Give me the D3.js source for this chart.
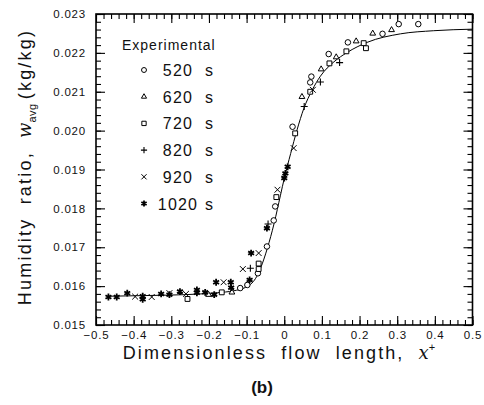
<!DOCTYPE html>
<html>
<head>
<meta charset="utf-8">
<script src="https://d3js.org/d3.v7.min.js"></script>
<style>
  body { margin: 0; background: #fff; }
  text { font-family: "Liberation Sans", Arial, sans-serif; fill: #111; }
</style>
</head>
<body>
<script>
// ---- data ----
const seriesNames = ["520 s", "620 s", "720 s", "820 s", "920 s", "1020 s"];

const s520 = [[-0.117,0.01595],[-0.098,0.01603],[-0.070,0.01633],[-0.046,0.01702],[-0.028,0.01769],
  [-0.024,0.01805],[0.022,0.02010],[0.069,0.02124],[0.072,0.02139],[0.118,0.02197],[0.169,0.02227],
  [0.261,0.02249],[0.304,0.02274],[0.356,0.02274]];
const s620 = [[-0.201,0.01578],[-0.139,0.01584],[0.047,0.02087],[0.098,0.02158],[0.138,0.02189],
  [0.191,0.02230],[0.235,0.02250],[0.285,0.02259]];
const s720 = [[-0.257,0.01567],[-0.166,0.01584],[-0.068,0.01658],[-0.068,0.01644],[-0.021,0.01829],
  [0.029,0.01993],[0.069,0.02100],[0.120,0.02173],[0.165,0.02204],[0.211,0.02225],[0.217,0.02212]];
const s820 = [[-0.090,0.01646],[-0.043,0.01760],[0.053,0.02062],[0.096,0.02125],[0.147,0.02175]];
const s920 = [[-0.396,0.01573],[-0.352,0.01572],[-0.305,0.01582],[-0.261,0.01580],[-0.161,0.01610],
  [-0.110,0.01644],[-0.068,0.01685],[-0.018,0.01848],[0.025,0.01955],[0.076,0.02105]];
const s1020 = [[-0.467,0.01572],[-0.445,0.01572],[-0.417,0.01582],[-0.376,0.01574],[-0.376,0.01566],
  [-0.327,0.01580],[-0.305,0.01578],[-0.277,0.01586],[-0.232,0.01590],[-0.232,0.01583],[-0.210,0.01584],
  [-0.186,0.01578],[-0.181,0.01610],[-0.142,0.01610],[-0.141,0.01596],[-0.092,0.01616],[-0.088,0.01685],
  [-0.046,0.01749],[0.000,0.01878],[0.003,0.01890],[0.009,0.01907]];

// fitted curve, traced
const fitCurve = [[-0.465,0.01574],[-0.355,0.01576],[-0.266,0.01578],[-0.178,0.01583],[-0.134,0.01588],
  [-0.107,0.01595],[-0.089,0.01605],[-0.076,0.01620],[-0.063,0.01646],[-0.045,0.01697],[-0.027,0.01761],
  [-0.010,0.01834],[0.000,0.01877],[0.017,0.01941],[0.034,0.02002],[0.052,0.02057],[0.074,0.02104],
  [0.096,0.02140],[0.132,0.02177],[0.167,0.02201],[0.220,0.02227],[0.309,0.02249],[0.397,0.02257],
  [0.500,0.02261]];

const xTicks = [-0.5,-0.4,-0.3,-0.2,-0.1,0,0.1,0.2,0.3,0.4,0.5];
const yTicks = [0.015,0.016,0.017,0.018,0.019,0.020,0.021,0.022,0.023];

// ---- layout ----
const W = 484, H = 405;
const pLeft = 96, pTop = 14, pRight = 472.5, pBottom = 325;

const svg = d3.select("body").append("svg").attr("width", W).attr("height", H);

const x = d3.scaleLinear().domain([-0.5, 0.5]).range([pLeft, pRight]);
const y = d3.scaleLinear().domain([0.015, 0.023]).range([pBottom, pTop]);

const fmtX = d => d === 0 ? "0" : d3.format(".1f")(d);

// minor ticks
svg.append("g").attr("transform", `translate(0,${pBottom})`)
  .call(d3.axisBottom(x).tickValues(x.ticks(50)).tickSize(-5).tickSizeOuter(0).tickFormat(""));
svg.append("g").attr("transform", `translate(0,${pTop})`)
  .call(d3.axisTop(x).tickValues(x.ticks(50)).tickSize(-5).tickSizeOuter(0).tickFormat(""));
svg.append("g").attr("transform", `translate(${pLeft},0)`)
  .call(d3.axisLeft(y).tickValues(y.ticks(40)).tickSize(-5).tickSizeOuter(0).tickFormat(""));
svg.append("g").attr("transform", `translate(${pRight},0)`)
  .call(d3.axisRight(y).tickValues(y.ticks(40)).tickSize(-5).tickSizeOuter(0).tickFormat(""));

// major ticks
const gx = svg.append("g").attr("transform", `translate(0,${pBottom})`)
  .call(d3.axisBottom(x).tickValues(xTicks).tickSize(-9).tickSizeOuter(0).tickPadding(6).tickFormat(fmtX));
svg.append("g").attr("transform", `translate(0,${pTop})`)
  .call(d3.axisTop(x).tickValues(xTicks).tickSize(-9).tickSizeOuter(0).tickFormat(""));
const gy = svg.append("g").attr("transform", `translate(${pLeft},0)`)
  .call(d3.axisLeft(y).tickValues(yTicks).tickSize(-9).tickSizeOuter(0).tickPadding(10).tickFormat(d3.format(".3f")));
svg.append("g").attr("transform", `translate(${pRight},0)`)
  .call(d3.axisRight(y).tickValues(yTicks).tickSize(-9).tickSizeOuter(0).tickFormat(""));

svg.selectAll(".domain").remove();
svg.selectAll(".tick line").attr("stroke", "#000").attr("stroke-width", 1.1);
gx.selectAll("text").attr("font-size", 11.5).attr("letter-spacing", 0.8).attr("fill", "#333")
  .style("font-family", "Liberation Sans, Arial, sans-serif");
gy.selectAll("text").attr("font-size", 11.5).attr("letter-spacing", 0.8).attr("fill", "#333")
  .style("font-family", "Liberation Sans, Arial, sans-serif");

// frame
svg.append("rect").attr("x", pLeft).attr("y", pTop)
  .attr("width", pRight - pLeft).attr("height", pBottom - pTop)
  .attr("fill", "none").attr("stroke", "#000").attr("stroke-width", 1.6);

// fitted line
svg.append("path").datum(fitCurve)
  .attr("fill", "none").attr("stroke", "#000").attr("stroke-width", 1)
  .attr("d", d3.line().x(d => x(d[0])).y(d => y(d[1])).curve(d3.curveMonotoneX));

// markers
const markers = [
  { data: s520, sym: d3.symbolCircle, size: 24, fill: "#fff", sw: 1 },
  { data: s620, sym: d3.symbolTriangle2, size: 24, fill: "#fff", sw: 1 },
  { data: s720, sym: d3.symbolSquare2, size: 30, fill: "#fff", sw: 1 },
  { data: s820, sym: d3.symbolPlus, size: 18, fill: "none", sw: 1.1 },
  { data: s920, sym: d3.symbolX, size: 24, fill: "none", sw: 1 },
  { data: s1020, sym: d3.symbolAsterisk, size: 32, fill: "none", sw: 1.8 }
];

markers.forEach((m, i) => {
  svg.append("g").selectAll("path")
    .data(m.data)
    .join("path")
      .attr("transform", d => `translate(${x(d[0])},${y(d[1])})`)
      .attr("d", d3.symbol().type(m.sym).size(m.size))
      .attr("fill", m.fill).attr("stroke", "#000").attr("stroke-width", m.sw);
});

// legend
const lg = svg.append("g");
lg.append("text").attr("x", 122).attr("y", 50)
  .attr("font-size", 14).attr("letter-spacing", 1).text("Experimental");
seriesNames.forEach((name, i) => {
  const yy = 70 + i * 26.7;
  const m = markers[i];
  lg.append("path").attr("transform", `translate(144,${yy})`)
    .attr("d", d3.symbol().type(m.sym).size(m.size * 0.8))
    .attr("fill", m.fill).attr("stroke", "#000").attr("stroke-width", m.sw);
  const parts = name.split(" ");
  lg.append("text").attr("x", 178).attr("y", yy + 6).attr("text-anchor", "middle")
    .attr("font-size", 16).attr("letter-spacing", 1.2).attr("fill", "#222").text(parts[0]);
  lg.append("text").attr("x", 209).attr("y", yy + 6).attr("text-anchor", "middle")
    .attr("font-size", 16).attr("fill", "#222").text(parts[1]);
});

// axis titles
const xt = svg.append("text").attr("x", 280).attr("y", 359).attr("text-anchor", "middle")
  .attr("font-size", 18).attr("letter-spacing", 2.1).attr("word-spacing", 7);
xt.append("tspan").text("Dimensionless flow length, ");
xt.append("tspan").attr("font-family", "DejaVu Serif, serif").attr("font-style", "italic").attr("letter-spacing", 0).text("x");
xt.append("tspan").attr("font-size", 11).attr("dy", -8).text("+");

const yt = svg.append("text").attr("transform", "translate(31,167) rotate(-90)")
  .attr("text-anchor", "middle").attr("font-size", 18).attr("letter-spacing", 2.2).attr("word-spacing", 6);
yt.append("tspan").text("Humidity ratio, ");
yt.append("tspan").attr("font-family", "DejaVu Serif, serif").attr("font-style", "italic").attr("letter-spacing", 0).text("w");
yt.append("tspan").attr("font-size", 11).attr("dy", 5).attr("letter-spacing", 0.5).text("avg");
yt.append("tspan").attr("dy", -5).attr("dx", 4).text("(kg/kg)");

svg.append("text").attr("x", 262).attr("y", 393).attr("text-anchor", "middle")
  .attr("font-size", 17).attr("font-weight", "bold").text("(b)");
</script>
</body>
</html>
